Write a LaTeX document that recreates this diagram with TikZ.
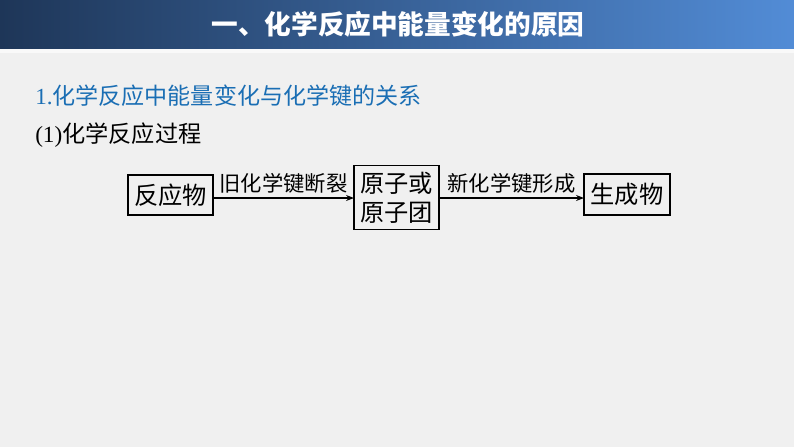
\documentclass[tikz,border=0pt]{standalone}
\usepackage{fontspec}
\setmainfont{Liberation Serif}
\newfontfamily\cjk{Noto Sans CJK SC}
\usetikzlibrary{arrows.meta}
\definecolor{bg}{RGB}{240,240,240}
\definecolor{hdrL}{RGB}{30,54,88}
\definecolor{hdrR}{RGB}{82,140,214}
\definecolor{headblue}{RGB}{26,110,180}
\tikzset{
  box/.style={draw=black, line width=0.9pt, fill=bg, inner sep=0pt, align=center,
              font=\cjk\fontsize{18.2pt}{22pt}\selectfont},
  lbl/.style={font=\cjk\fontsize{16pt}{19pt}\selectfont, inner sep=0pt, anchor=south},
  conn/.style={line width=0.8pt, -{Stealth[length=6pt,width=4.5pt]}}
}
\begin{document}
\begin{tikzpicture}[x=0.75pt,y=-0.75pt]
\useasboundingbox (0,0) rectangle (794,447);
\fill[bg] (0,0) rectangle (794,447);
\shade[left color=hdrL, right color=hdrR] (0,0) rectangle (794,49);
\fill[white!60!bg] (0,49) rectangle (794,53);
\node[text=white, font=\cjk\bfseries\fontsize{20pt}{24pt}\selectfont] (title) at (398,24) {一、化学反应中能量变化的原因};
\node[anchor=west, inner sep=0pt, text=headblue, font=\fontsize{17.3pt}{20pt}\selectfont] (h1) at (35,96) {1.{\cjk 化学反应中能量变化与化学键的关系}};
\node[anchor=west, inner sep=0pt, font=\fontsize{17.4pt}{20pt}\selectfont] (h2) at (35,135) {(1){\cjk 化学反应过程}};
\node[box, minimum width=63.75pt, minimum height=30pt] (a) at (170.5,195) {反应物};
\node[box, minimum width=63.75pt, minimum height=47.5pt] (b) at (396.5,197.5) {原子或\\原子团};
\node[box, minimum width=64.5pt, minimum height=30.75pt] (c) at (627,194.5) {生成物};
\coordinate (a1) at (213,198);
\coordinate (b1) at (354,198);
\coordinate (b2) at (439,198);
\coordinate (c1) at (584,198);
\draw[conn] (a1) -- node[lbl, above=3pt] {旧化学键断裂} (b1);
\draw[conn] (b2) -- node[lbl, above=3pt] {新化学键形成} (c1);
\end{tikzpicture}
\end{document}
